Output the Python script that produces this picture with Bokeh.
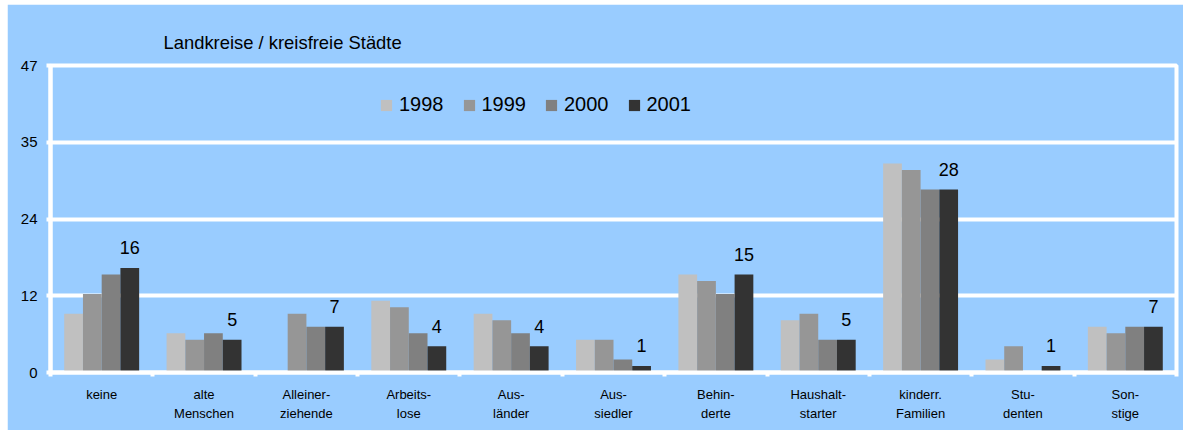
from bokeh.plotting import figure
from bokeh.models import FixedTicker, Legend, LegendItem, ColumnDataSource
from bokeh.core.properties import value
from bokeh.embed import file_html
from bokeh.resources import INLINE

categories = ["keine", "alte\nMenschen", "Alleiner-\nziehende", "Arbeits-\nlose", "Aus-\nländer",
              "Aus-\nsiedler", "Behin-\nderte", "Haushalt-\nstarter", "kinderr.\nFamilien",
              "Stu-\ndenten", "Son-\nstige"]
years = ["1998", "1999", "2000", "2001"]
v1998 = [9, 6, 0, 11, 9, 5, 15, 8, 32, 2, 7]
v1999 = [12, 5, 9, 10, 8, 5, 14, 9, 31, 4, 6]
v2000 = [15, 6, 7, 6, 6, 2, 12, 5, 28, 0, 7]
v2001 = [16, 5, 7, 4, 4, 1, 15, 5, 28, 1, 7]
series = [v1998, v1999, v2000, v2001]
colors = ["#C0C0C0", "#969696", "#808080", "#333333"]
y_ticks = [0, 11.75, 23.5, 35.25, 47]
y_tick_labels = ["0", "12", "24", "35", "47"]
title_text = "Landkreise / kreisfreie Städte"

BG = "#99CCFF"
FONT = "Liberation Sans"
n = len(categories)

p = figure(width=1176, height=426, output_backend="svg", toolbar_location=None,
           x_range=(0, n), y_range=(0, 47),
           min_border_left=43, min_border_right=7, min_border_top=61, min_border_bottom=58)
p.margin = (4, 0, 0, 7)
p.background_fill_color = BG
p.border_fill_color = BG
p.outline_line_color = "white"
p.outline_line_width = 4

p.title.text = title_text
p.title.align = "left"
p.title.offset = 113
p.title.standoff = 26
p.title.text_font = FONT
p.title.text_font_size = "18.4px"
p.title.text_font_style = "normal"
p.title.text_color = "black"

bar_w = 0.183
items = []
for k, (yr, vals, c) in enumerate(zip(years, series, colors)):
    xs = [i + 0.5 + (k - 1.5) * bar_w for i in range(n)]
    src = ColumnDataSource(dict(x=xs, top=vals, lab=[str(v) for v in vals]))
    r = p.vbar(x="x", top="top", width=bar_w, source=src, fill_color=c, line_color=None)
    items.append(LegendItem(label=yr, renderers=[r]))
    if yr == "2001":
        p.text(x="x", y="top", text="lab", source=src, text_align="center",
               text_baseline="alphabetic", y_offset=-20, text_font_size="18px",
               text_font=value(FONT), text_color="black")

# axes
xa = p.xaxis[0]
xa.ticker = FixedTicker(ticks=[i + 0.5 for i in range(n)], minor_ticks=list(range(n + 1)))
xa.major_label_overrides = {i + 0.5: categories[i] for i in range(n)}
xa.major_tick_line_color = None
xa.minor_tick_line_color = "white"
xa.minor_tick_line_width = 4
xa.minor_tick_out = 4
xa.minor_tick_in = 0
xa.axis_line_color = "white"
xa.axis_line_width = 4
xa.major_label_text_font = FONT
xa.major_label_text_font_size = "13px"
xa.major_label_text_color = "black"
xa.major_label_text_line_height = 1.3
xa.major_label_standoff = 8

ya = p.yaxis[0]
ya.ticker = FixedTicker(ticks=y_ticks)
ya.major_label_overrides = {t: l for t, l in zip(y_ticks, y_tick_labels)}
ya.axis_line_color = "white"
ya.axis_line_width = 4
ya.major_tick_line_color = "white"
ya.major_tick_line_width = 4
ya.major_tick_out = 4
ya.major_tick_in = 0
ya.minor_tick_line_color = None
ya.major_label_text_font = FONT
ya.major_label_text_font_size = "15px"
ya.major_label_text_color = "black"
ya.major_label_standoff = 9

p.xgrid.grid_line_color = None
p.ygrid.grid_line_color = "white"
p.ygrid.grid_line_width = 4
p.ygrid.grid_line_alpha = 1

legend = Legend(items=items, orientation="horizontal", location=(329, 256),
                glyph_width=14, glyph_height=14, label_standoff=6, spacing=18,
                padding=0, margin=0, label_text_font=FONT, label_text_font_size="20px",
                label_text_color="black", background_fill_alpha=0, border_line_color=None,
                label_height=20)
p.add_layout(legend, "center")

open("out.html", "w").write(file_html(p, INLINE))
